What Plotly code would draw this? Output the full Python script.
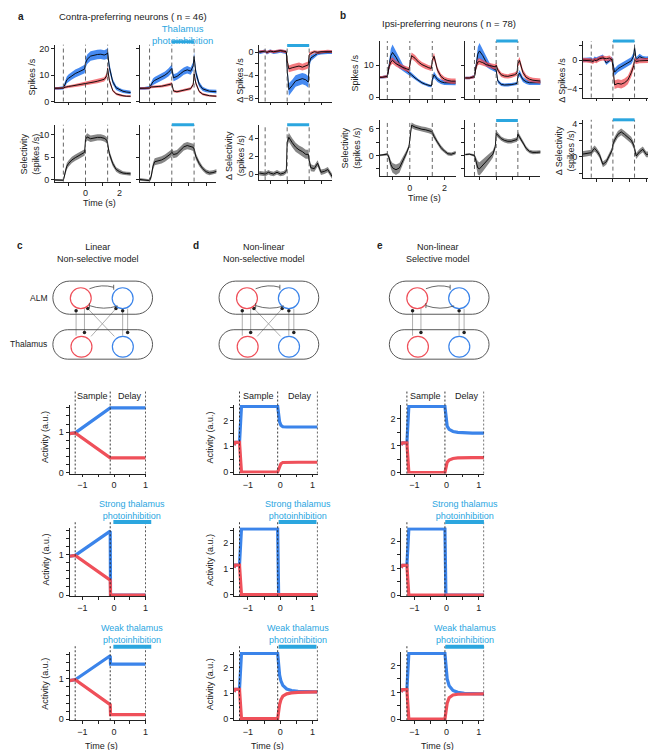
import plotly.graph_objects as go

W, H = 656, 750
FONT = "Arial, 'Liberation Sans', Helvetica, sans-serif"
INK = "#222222"
BLUE = "#3b84ea"
RED = "#ef505a"
CYAN = "#2ba6df"
BLUE_BAND = "rgba(38,118,238,0.85)"
RED_BAND = "rgba(240,70,78,0.72)"
GREY_BAND = "rgba(105,105,105,0.8)"

# ---------------- recorded activity (panels a, b) ----------------
t = [-1.9, -1.6, -1.3, -1.2, -1.1, -1.0, -0.8, -0.6, -0.4, -0.2, -0.05, 0.0, 0.1, 0.3,
     0.5, 0.7, 0.9, 1.1, 1.25, 1.3, 1.4, 1.6, 1.8, 2.0, 2.2, 2.4, 2.7]
epochs = [-1.3, 0.0, 1.3]
light = [0.0, 1.3]

# contra-preferring, control
contra_ctrl_blue = [5.0, 5.0, 5.2, 6.5, 8.2, 8.8, 9.8, 10.6, 11.2, 11.8, 12.3, 14.5, 16.0, 17.2,
                    17.6, 17.8, 17.9, 17.6, 18.0, 18.5, 13.0, 7.5, 5.2, 4.4, 3.9, 3.6, 3.4]
contra_ctrl_blue_sem = [0.5, 0.5, 0.6, 1.0, 1.3, 1.4, 1.5, 1.5, 1.5, 1.5, 1.6, 1.7, 1.8, 1.8,
                        1.8, 1.8, 1.8, 1.8, 1.9, 2.0, 1.6, 1.0, 0.8, 0.7, 0.7, 0.7, 0.7]
contra_ctrl_red = [5.0, 5.0, 5.1, 5.4, 5.6, 5.7, 5.9, 6.1, 6.3, 6.5, 6.7, 6.8, 6.9, 7.1,
                   7.4, 7.7, 8.0, 8.4, 9.8, 12.5, 8.0, 4.2, 2.9, 2.4, 2.2, 2.0, 2.0]
contra_ctrl_red_sem = [0.4, 0.4, 0.4, 0.5, 0.5, 0.5, 0.5, 0.6, 0.6, 0.6, 0.6, 0.7, 0.7, 0.7,
                       0.7, 0.8, 0.8, 0.8, 1.0, 1.2, 0.9, 0.5, 0.4, 0.4, 0.4, 0.4, 0.4]
# contra-preferring, thalamus photoinhibition
contra_inh_blue = [5.0, 5.0, 5.3, 6.5, 7.5, 8.0, 8.6, 9.3, 10.0, 11.0, 12.0, 12.5, 9.0, 9.5,
                   10.5, 11.5, 12.0, 11.5, 13.5, 17.0, 11.0, 6.5, 4.8, 4.2, 3.9, 3.8, 3.7]
contra_inh_blue_sem = [0.5, 0.5, 0.6, 1.0, 1.2, 1.3, 1.4, 1.4, 1.4, 1.5, 1.5, 1.5, 1.3, 1.3,
                       1.4, 1.4, 1.4, 1.4, 1.6, 1.8, 1.5, 1.0, 0.8, 0.7, 0.7, 0.7, 0.7]
contra_inh_red = [5.0, 5.0, 5.1, 5.5, 5.6, 5.6, 5.7, 5.8, 6.0, 6.3, 6.6, 6.8, 4.0, 3.7,
                  4.0, 4.3, 4.6, 4.9, 6.5, 10.5, 7.0, 3.8, 2.8, 2.4, 2.2, 2.1, 2.0]
contra_inh_red_sem = [0.4, 0.4, 0.4, 0.5, 0.5, 0.5, 0.5, 0.5, 0.5, 0.6, 0.6, 0.6, 0.5, 0.5,
                      0.5, 0.5, 0.5, 0.5, 0.7, 1.0, 0.8, 0.5, 0.4, 0.4, 0.4, 0.4, 0.4]
# contra-preferring, photoinhibition minus control
contra_delta_blue = [0.1, 0.0, 0.2, -0.1, 0.1, 0.2, 0.0, 0.1, 0.2, 0.1, 0.0, -3.0, -6.5, -5.8,
                     -5.0, -4.8, -4.6, -4.8, -5.2, -2.0, -1.0, -0.6, -0.2, -0.1, 0.0, 0.0, 0.0]
contra_delta_blue_sem = [0.3, 0.3, 0.3, 0.3, 0.3, 0.3, 0.3, 0.3, 0.3, 0.3, 0.3, 0.8, 1.1, 1.0,
                         1.0, 1.0, 1.0, 1.0, 1.0, 0.8, 0.5, 0.4, 0.3, 0.3, 0.3, 0.3, 0.3]
contra_delta_red = [0.2, 0.1, 0.2, 0.0, 0.1, 0.2, 0.1, 0.2, 0.3, 0.2, 0.1, -1.5, -2.9, -2.7,
                    -2.5, -2.4, -2.6, -2.4, -2.2, -0.5, -0.2, 0.1, 0.0, 0.1, 0.1, 0.2, 0.1]
contra_delta_red_sem = [0.25, 0.25, 0.25, 0.25, 0.25, 0.25, 0.25, 0.25, 0.25, 0.25, 0.25, 0.5, 0.6, 0.6,
                        0.6, 0.6, 0.6, 0.6, 0.6, 0.5, 0.3, 0.25, 0.25, 0.25, 0.25, 0.25, 0.25]
# contra-preferring selectivity
contra_sel_ctrl = [0.0, -0.1, -0.1, 1.5, 3.0, 3.6, 4.4, 4.9, 5.3, 5.7, 6.1, 9.0, 9.5, 9.1,
                   9.3, 9.4, 9.4, 9.2, 8.8, 8.0, 5.8, 3.6, 2.3, 1.8, 1.5, 1.4, 1.3]
contra_sel_ctrl_sem = [0.2, 0.2, 0.2, 0.6, 0.7, 0.7, 0.7, 0.7, 0.7, 0.7, 0.7, 0.8, 0.8, 0.7,
                       0.7, 0.7, 0.7, 0.7, 0.7, 0.8, 0.7, 0.6, 0.5, 0.5, 0.4, 0.4, 0.4]
contra_sel_inh = [0.1, -0.1, -0.2, 0.8, 3.0, 4.0, 4.2, 4.4, 4.8, 5.3, 5.8, 6.2, 5.6, 5.8,
                  6.6, 7.3, 7.6, 7.4, 7.2, 6.8, 5.2, 3.6, 2.5, 1.8, 1.5, 1.6, 2.0]
contra_sel_inh_sem = [0.3, 0.3, 0.3, 0.6, 0.8, 0.8, 0.8, 0.8, 0.8, 0.8, 0.8, 0.8, 0.8, 0.8,
                      0.8, 0.8, 0.8, 0.8, 0.8, 0.8, 0.7, 0.6, 0.5, 0.5, 0.5, 0.5, 0.5]
contra_sel_delta = [0.0, 0.1, 0.0, 0.1, 0.2, 0.1, 0.0, 0.2, 0.0, 0.1, 0.3, 3.5, 4.1, 3.5,
                    3.0, 2.7, 2.5, 2.2, 2.2, 1.5, 0.7, 0.6, 1.2, 0.2, 0.3, 0.5, -0.4]
contra_sel_delta_sem = [0.25, 0.25, 0.25, 0.25, 0.25, 0.25, 0.25, 0.25, 0.25, 0.25, 0.25, 0.5, 0.5, 0.5,
                        0.5, 0.5, 0.5, 0.5, 0.5, 0.4, 0.4, 0.35, 0.35, 0.3, 0.3, 0.3, 0.3]

# ipsi-preferring, control
ipsi_ctrl_blue = [6.2, 6.2, 6.5, 10.0, 13.0, 14.0, 12.5, 10.5, 9.2, 8.3, 7.7, 7.5, 7.0, 6.0,
                  5.2, 4.5, 4.0, 3.6, 3.5, 5.5, 7.0, 5.5, 4.8, 4.5, 4.4, 4.4, 4.4]
ipsi_ctrl_blue_sem = [0.4, 0.4, 0.5, 1.5, 2.2, 2.5, 2.0, 1.5, 1.0, 0.8, 0.7, 0.7, 0.6, 0.5,
                      0.5, 0.5, 0.4, 0.4, 0.4, 0.8, 1.0, 0.8, 0.7, 0.7, 0.7, 0.7, 0.7]
ipsi_ctrl_red = [6.2, 6.2, 6.5, 9.5, 11.0, 11.5, 10.5, 9.8, 9.3, 8.9, 8.6, 10.0, 13.0, 12.2,
                 11.0, 10.2, 9.6, 9.2, 9.0, 11.5, 12.8, 8.5, 6.5, 5.6, 5.2, 5.0, 5.0]
ipsi_ctrl_red_sem = [0.4, 0.4, 0.5, 0.9, 1.0, 1.0, 0.9, 0.8, 0.8, 0.8, 0.8, 0.9, 1.0, 1.0,
                     0.9, 0.8, 0.8, 0.8, 0.8, 1.0, 1.1, 0.9, 0.8, 0.8, 0.8, 0.8, 0.8]
# ipsi-preferring, thalamus photoinhibition
ipsi_inh_blue = [6.0, 6.0, 6.5, 10.5, 13.5, 14.5, 13.0, 11.0, 9.8, 9.0, 8.6, 8.5, 5.0, 4.0,
                 3.8, 3.8, 3.9, 4.1, 4.3, 6.5, 7.5, 5.5, 4.8, 4.5, 4.5, 4.5, 4.5]
ipsi_inh_blue_sem = [0.4, 0.4, 0.5, 1.5, 2.2, 2.5, 2.0, 1.5, 1.0, 0.8, 0.7, 0.7, 0.6, 0.5,
                     0.5, 0.5, 0.5, 0.5, 0.5, 0.8, 1.0, 0.8, 0.7, 0.7, 0.7, 0.7, 0.7]
ipsi_inh_red = [6.0, 6.0, 6.4, 9.5, 11.0, 11.2, 10.8, 10.2, 9.9, 9.6, 9.5, 10.0, 8.5, 7.0,
                6.6, 6.5, 6.7, 7.0, 7.5, 10.5, 11.5, 7.8, 6.2, 5.6, 5.3, 5.2, 5.0]
ipsi_inh_red_sem = [0.4, 0.4, 0.5, 0.9, 1.0, 1.0, 0.9, 0.8, 0.8, 0.8, 0.8, 0.9, 0.8, 0.7,
                    0.7, 0.7, 0.7, 0.7, 0.8, 1.0, 1.1, 0.9, 0.8, 0.8, 0.8, 0.8, 0.8]
# ipsi-preferring, photoinhibition minus control
ipsi_delta_blue = [0.0, 0.0, 0.1, -0.1, 0.2, 0.1, 0.3, 0.5, -0.4, 0.0, 0.2, -0.5, -1.7, -1.2,
                   -0.9, -0.6, -0.4, -0.1, 0.6, 1.8, 0.0, 0.5, 0.3, 0.2, 0.3, 0.3, 0.3]
ipsi_delta_blue_sem = [0.3, 0.3, 0.3, 0.3, 0.3, 0.3, 0.3, 0.3, 0.3, 0.3, 0.3, 0.4, 0.5, 0.5,
                       0.5, 0.5, 0.5, 0.5, 0.5, 0.5, 0.4, 0.4, 0.3, 0.3, 0.3, 0.3, 0.3]
ipsi_delta_red = [0.0, 0.0, -0.1, -0.2, 0.0, -0.1, 0.2, 0.3, 0.2, 0.3, 0.0, -1.0, -3.5, -3.3,
                  -3.4, -3.2, -2.8, -1.8, -0.8, 0.0, -0.2, -0.1, -0.1, -0.1, 0.0, 0.0, 0.0]
ipsi_delta_red_sem = [0.35, 0.35, 0.35, 0.35, 0.35, 0.35, 0.35, 0.35, 0.35, 0.35, 0.35, 0.5, 0.6, 0.6,
                      0.6, 0.6, 0.6, 0.6, 0.5, 0.4, 0.35, 0.35, 0.35, 0.35, 0.35, 0.35, 0.35]
# ipsi-preferring selectivity
ipsi_sel_ctrl = [0.0, 0.1, 0.3, -0.5, -2.0, -2.8, -3.2, -2.8, -1.2, 0.5, 2.0, 4.0, 6.8, 6.4,
                 6.1, 5.9, 5.8, 5.6, 5.4, 5.2, 4.3, 3.0, 1.8, 1.0, 0.4, 0.3, 0.7]
ipsi_sel_ctrl_sem = [0.2, 0.2, 0.3, 0.6, 0.9, 1.1, 1.2, 1.1, 0.9, 0.6, 0.5, 0.5, 0.6, 0.6,
                     0.6, 0.6, 0.6, 0.6, 0.6, 0.6, 0.6, 0.5, 0.5, 0.4, 0.4, 0.4, 0.4]
ipsi_sel_inh = [0.2, 0.3, 0.0, -1.5, -2.8, -3.0, -2.2, -1.5, -0.6, 0.3, 2.0, 5.0, 4.6, 3.8,
                3.4, 3.2, 3.2, 3.4, 3.6, 4.8, 4.2, 3.0, 1.6, 0.9, 0.7, 0.7, 0.8]
ipsi_sel_inh_sem = [0.2, 0.2, 0.3, 1.0, 1.5, 1.5, 1.4, 1.2, 1.0, 0.8, 0.6, 0.6, 0.6, 0.5,
                    0.5, 0.5, 0.5, 0.5, 0.5, 0.6, 0.6, 0.5, 0.5, 0.4, 0.4, 0.4, 0.4]
ipsi_sel_delta = [0.3, 0.4, 0.5, 0.8, 1.0, 0.8, 0.2, -0.9, -0.6, 0.2, 0.8, 1.5, 2.0, 2.7,
                  3.0, 2.7, 2.4, 2.0, 1.4, 1.0, 0.1, 0.6, 0.9, 0.3, 0.3, 0.4, 0.2]
ipsi_sel_delta_sem = [0.35, 0.35, 0.35, 0.35, 0.35, 0.35, 0.35, 0.35, 0.35, 0.35, 0.35, 0.4, 0.4, 0.4,
                      0.4, 0.4, 0.4, 0.4, 0.4, 0.4, 0.35, 0.35, 0.35, 0.35, 0.35, 0.35, 0.35]

# ---------------- rate models (panels c, d, e) ----------------
c_epochs = [-1.23, -0.12, 1.0]
c_light = [-0.02, 1.18]
c_t = [-1.41, -1.23, -0.12, -0.11, 1.0]
c_ctrl_blue = [0.96, 0.98, 1.6, 1.6, 1.6]
c_ctrl_red = [0.96, 0.98, 0.36, 0.36, 0.36]
c_strong_blue = [0.96, 0.98, 1.58, 0.0, 0.0]
c_strong_red = [0.96, 0.98, 0.37, 0.0, 0.0]
c_weak_blue = [0.96, 0.98, 1.58, 1.37, 1.37]
c_weak_red = [0.96, 0.98, 0.36, 0.11, 0.11]

d_epochs = [-1.26, -0.08, 1.15]
d_light = [-0.05, 1.12]
d_t = [-1.43, -1.39, -1.26, -1.23, -1.20, -0.08, -0.05, -0.02, 0.02, 0.08, 0.2, 0.35, 0.55, 0.8, 1.15]
d_ctrl_blue = [1.05, 1.15, 1.15, 2.3, 2.55, 2.55, 2.2, 1.95, 1.82, 1.76, 1.75, 1.75, 1.75, 1.75, 1.75]
d_ctrl_red = [1.05, 1.15, 1.15, 0.2, 0.0, 0.0, 0.08, 0.22, 0.32, 0.37, 0.38, 0.38, 0.38, 0.38, 0.38]
d_strong_blue = [1.05, 1.15, 1.15, 2.3, 2.55, 2.55, 0.0, 0.0, 0.0, 0.0, 0.0, 0.0, 0.0, 0.0, 0.0]
d_strong_red = [1.05, 1.15, 1.15, 0.2, 0.0, 0.0, 0.0, 0.0, 0.0, 0.0, 0.0, 0.0, 0.0, 0.0, 0.0]
d_weak_blue = [1.05, 1.15, 1.15, 2.3, 2.55, 2.55, 2.05, 1.7, 1.48, 1.3, 1.16, 1.1, 1.07, 1.05, 1.05]
d_weak_red = [1.05, 1.15, 1.15, 0.2, 0.0, 0.0, 0.3, 0.55, 0.74, 0.88, 0.97, 1.01, 1.03, 1.05, 1.05]

e_epochs = [-1.23, -0.05, 1.16]
e_light = [-0.04, 1.16]
e_t = [-1.41, -1.37, -1.23, -1.20, -1.17, -0.05, -0.02, 0.02, 0.08, 0.2, 0.35, 0.55, 0.8, 1.16]
e_ctrl_blue = [1.02, 1.1, 1.1, 2.2, 2.45, 2.45, 2.0, 1.72, 1.6, 1.52, 1.49, 1.47, 1.46, 1.46]
e_ctrl_red = [1.02, 1.1, 1.1, 0.2, 0.0, 0.0, 0.2, 0.38, 0.46, 0.52, 0.54, 0.55, 0.55, 0.55]
e_strong_blue = [1.02, 1.1, 1.1, 2.2, 2.45, 2.45, 0.0, 0.0, 0.0, 0.0, 0.0, 0.0, 0.0, 0.0]
e_strong_red = [1.02, 1.1, 1.1, 0.2, 0.0, 0.0, 0.0, 0.0, 0.0, 0.0, 0.0, 0.0, 0.0, 0.0]
e_weak_blue = [1.02, 1.1, 1.1, 2.2, 2.45, 2.45, 1.9, 1.5, 1.25, 1.07, 1.0, 0.96, 0.95, 0.94]
e_weak_red = [1.02, 1.1, 1.1, 0.2, 0.0, 0.0, 0.3, 0.6, 0.8, 0.9, 0.93, 0.94, 0.94, 0.94]

# ---------------- circuit schematic (local px units) ----------------
alm_box = (5, 9.3, 105, 42.7)
thal_box = (5, 58.3, 105, 88)
neuron_r = 10.5
neurons = [(33, 26.5, RED), (75, 26.5, BLUE), (33.7, 75.5, RED), (75.2, 75.5, BLUE)]
straight_proj = [(28.3, 64.3, 28.3, 39.3), (36.7, 37, 36.7, 61), (75, 64.3, 75, 39.3), (80, 37, 80, 61)]
cross_proj = [(43.3, 65, 68.3, 37), (66.7, 65, 40, 37)]

fig = go.Figure()
layout = {}
shapes = []
notes = []
n_axes = 0


def add_axes(xd, yd, xr, yr, xt=(), xtl=(), yt=(), ytl=(), visible=True):
    global n_axes
    n_axes += 1
    s = "" if n_axes == 1 else str(n_axes)
    common = dict(showgrid=False, zeroline=False, fixedrange=True)
    if visible:
        common.update(showline=True, linecolor=INK, linewidth=0.8, ticks="outside", ticklen=3,
                      tickwidth=0.8, tickcolor=INK, tickfont=dict(size=9, color=INK), tickmode="array")
    else:
        common.update(visible=False)
    layout["xaxis" + s] = dict(domain=[xd[0] / W, xd[1] / W], range=list(xr), anchor="y" + s,
                               tickvals=list(xt), ticktext=list(xtl), **common)
    layout["yaxis" + s] = dict(domain=[1 - yd[1] / H, 1 - yd[0] / H], range=list(yr), anchor="x" + s,
                               tickvals=list(yt), ticktext=list(ytl), **common)
    return "x" + s, "y" + s


def text(x, y, s, size=9, color=INK, xanchor="center", angle=0, xref="paper"):
    notes.append(dict(x=x if xref != "paper" else x / W, y=1 - y / H, xref=xref, yref="paper", text=s,
                      showarrow=False, xanchor=xanchor, yanchor="middle", textangle=angle,
                      font=dict(size=size, color=color)))


def band(xa, ya, m, s, color):
    up = [a + b for a, b in zip(m, s)]
    lo = [a - b for a, b in zip(m, s)]
    fig.add_trace(go.Scatter(x=t + t[::-1], y=up + lo[::-1], fill="toself", fillcolor=color, mode="lines",
                             line=dict(width=0), hoverinfo="skip", xaxis=xa, yaxis=ya))
    fig.add_trace(go.Scatter(x=t, y=m, mode="lines", line=dict(color="black", width=0.9),
                             hoverinfo="skip", xaxis=xa, yaxis=ya))


def epoch_lines(xa, ya, times, top=1.0, dash="4px,3px", color="#555555"):
    for e in times:
        shapes.append(dict(type="line", xref=xa, yref=ya + " domain", x0=e, x1=e, y0=0, y1=top,
                           line=dict(color=color, width=0.9, dash=dash)))


def light_bar(xa, ya, x0, x1, y=1.03, width=3, xref_domain=False):
    shapes.append(dict(type="line", xref=xa + (" domain" if xref_domain else ""), yref=ya + " domain",
                       x0=x0, x1=x1, y0=y, y1=y, line=dict(color=CYAN, width=width)))


# ---------------- panels a and b ----------------
XT = [-1, 0, 1, 2]
XL_NONE = ["", "", "", ""]
XL_TIME = ["", "0", "", "2"]

a_cols = [(47, 123, (-1.8, 2.65)), (132, 209, (-1.88, 2.6)), (252, 325, (-1.65, 2.65))]
b_cols = [(372.7, 449, (-1.75, 2.65)), (458.7, 534, (-1.85, 2.65)), (576.7, 651, (-1.8, 2.65))]

# a, row 1
xa, ya = add_axes(a_cols[0][:2], (36, 93.3), a_cols[0][2], (0, 21.5), XT, XL_NONE, [0, 10, 20], ["0", "10", "20"])
epoch_lines(xa, ya, epochs)
band(xa, ya, contra_ctrl_blue, contra_ctrl_blue_sem, BLUE_BAND)
band(xa, ya, contra_ctrl_red, contra_ctrl_red_sem, RED_BAND)
xa, ya = add_axes(a_cols[1][:2], (36, 93.3), a_cols[1][2], (0, 21.5), XT, XL_NONE, [0, 10, 20], ["", "", ""])
epoch_lines(xa, ya, epochs)
band(xa, ya, contra_inh_blue, contra_inh_blue_sem, BLUE_BAND)
band(xa, ya, contra_inh_red, contra_inh_red_sem, RED_BAND)
light_bar(xa, ya, light[0], light[1], y=1.05)
xa, ya = add_axes(a_cols[2][:2], (36.7, 93.3), a_cols[2][2], (-8.6, 1.2), XT, XL_NONE,
                  [-8, -6, -4, -2, 0], ["\u22128", "", "\u22124", "", "0"])
epoch_lines(xa, ya, epochs)
band(xa, ya, contra_delta_blue, contra_delta_blue_sem, BLUE_BAND)
band(xa, ya, contra_delta_red, contra_delta_red_sem, RED_BAND)
light_bar(xa, ya, light[0], light[1], y=1.0)

# a, row 2
xa, ya = add_axes(a_cols[0][:2], (116.7, 174), a_cols[0][2], (-0.4, 12.2), XT, XL_TIME, [0, 5, 10], ["0", "5", "10"])
epoch_lines(xa, ya, epochs)
band(xa, ya, contra_sel_ctrl, contra_sel_ctrl_sem, GREY_BAND)
xa, ya = add_axes(a_cols[1][:2], (116.7, 174), a_cols[1][2], (-0.4, 12.2), XT, XL_NONE, [0, 5, 10], ["", "", ""])
epoch_lines(xa, ya, epochs)
band(xa, ya, contra_sel_inh, contra_sel_inh_sem, GREY_BAND)
light_bar(xa, ya, light[0], light[1], y=1.0)
xa, ya = add_axes(a_cols[2][:2], (116.7, 172.7), a_cols[2][2], (-0.7, 5.5), XT, XL_NONE, [0, 2, 4], ["0", "2", "4"])
epoch_lines(xa, ya, epochs)
band(xa, ya, contra_sel_delta, contra_sel_delta_sem, GREY_BAND)
light_bar(xa, ya, light[0], light[1], y=1.0)

# b, row 1
xa, ya = add_axes(b_cols[0][:2], (32.3, 90.7), b_cols[0][2], (-0.6, 17.6), XT, XL_NONE, [0, 10], ["0", "10"])
epoch_lines(xa, ya, epochs)
band(xa, ya, ipsi_ctrl_blue, ipsi_ctrl_blue_sem, BLUE_BAND)
band(xa, ya, ipsi_ctrl_red, ipsi_ctrl_red_sem, RED_BAND)
xa, ya = add_axes(b_cols[1][:2], (32.3, 90.7), b_cols[1][2], (-0.6, 17.6), XT, XL_NONE, [0, 10], ["", ""])
epoch_lines(xa, ya, epochs)
band(xa, ya, ipsi_inh_blue, ipsi_inh_blue_sem, BLUE_BAND)
band(xa, ya, ipsi_inh_red, ipsi_inh_red_sem, RED_BAND)
light_bar(xa, ya, light[0], light[1], y=1.0)
xa, ya = add_axes(b_cols[2][:2], (32.3, 89.3), b_cols[2][2], (-5.3, 2.7), XT, XL_NONE,
                  [-4, -2, 0, 2], ["\u22124", "", "0", ""])
epoch_lines(xa, ya, epochs)
band(xa, ya, ipsi_delta_blue, ipsi_delta_blue_sem, BLUE_BAND)
band(xa, ya, ipsi_delta_red, ipsi_delta_red_sem, RED_BAND)
light_bar(xa, ya, light[0], light[1], y=1.0)

# b, row 2
xa, ya = add_axes(b_cols[0][:2], (112.3, 168.3), b_cols[0][2], (-4.6, 7.9), XT, XL_TIME, [-3, 0, 3, 6], ["", "0", "", "6"])
epoch_lines(xa, ya, epochs)
band(xa, ya, ipsi_sel_ctrl, ipsi_sel_ctrl_sem, GREY_BAND)
xa, ya = add_axes(b_cols[1][:2], (112.3, 168.3), b_cols[1][2], (-4.6, 7.9), XT, XL_NONE, [-3, 0, 3, 6], ["", "", "", ""])
epoch_lines(xa, ya, epochs)
band(xa, ya, ipsi_sel_inh, ipsi_sel_inh_sem, GREY_BAND)
light_bar(xa, ya, light[0], light[1], y=1.0)
xa, ya = add_axes(b_cols[2][:2], (111.7, 170), b_cols[2][2], (-2.5, 4.45), XT, XL_NONE,
                  [-2, 0, 2, 4], ["", "0", "", "4"])
epoch_lines(xa, ya, epochs)
band(xa, ya, ipsi_sel_delta, ipsi_sel_delta_sem, GREY_BAND)
light_bar(xa, ya, light[0], light[1], y=1.0)

# ---------------- panels c, d, e : model traces ----------------
model_rows = [(399.3, 468.3), (522.7, 592), (648.3, 717)]
model_cols = {
    "c": dict(xd=(61.7, 138.3), xr=(-1.41, 1.01), yr=(-0.03, 1.67),
              yt=[0, 0.2, 0.4, 0.6, 0.8, 1.0, 1.2, 1.4, 1.6], ytl=["0", "", "", "", "", "1", "", "", ""],
              epochs=c_epochs, light=c_light, t=c_t,
              runs=[(c_ctrl_blue, c_ctrl_red), (c_strong_blue, c_strong_red), (c_weak_blue, c_weak_red)]),
    "d": dict(xd=(226.7, 310.7), xr=(-1.43, 1.16), yr=(-0.06, 2.6),
              yt=[0, 0.5, 1, 1.5, 2, 2.5], ytl=["0", "", "1", "", "2", ""],
              epochs=d_epochs, light=d_light, t=d_t,
              runs=[(d_ctrl_blue, d_ctrl_red), (d_strong_blue, d_strong_red), (d_weak_blue, d_weak_red)]),
    "e": dict(xd=(394.3, 477.7), xr=(-1.41, 1.17), yr=(-0.04, 2.5),
              yt=[0, 0.5, 1, 1.5, 2], ytl=["0", "", "1", "", "2"],
              epochs=e_epochs, light=e_light, t=e_t,
              runs=[(e_ctrl_blue, e_ctrl_red), (e_strong_blue, e_strong_red), (e_weak_blue, e_weak_red)]),
}
MXT = [-1, -0.5, 0, 0.5, 1]
MXL = ["\u22121", "", "0", "", "1"]
light_titles = [None, "Strong thalamus<br>photoinhibition", "Weak thalamus<br>photoinhibition"]

for key, col in model_cols.items():
    for r, (top, bottom) in enumerate(model_rows):
        xa, ya = add_axes(col["xd"], (top, bottom), col["xr"], col["yr"], MXT, MXL, col["yt"], col["ytl"])
        epoch_lines(xa, ya, col["epochs"], top=1.21 if r == 0 else 1.1, dash="2px,2px", color="#222222")
        blue, red = col["runs"][r]
        for ys, c in ((blue, BLUE), (red, RED)):
            fig.add_trace(go.Scatter(x=col["t"], y=ys, mode="lines", line=dict(color=c, width=3.2),
                                     hoverinfo="skip", xaxis=xa, yaxis=ya))
        r0, r1 = col["xr"]
        if r == 0:
            ep = col["epochs"]
            text((ep[0] + ep[1]) / 2, 390, "Sample", xref=xa)
            text((ep[1] + ep[2]) / 2 + 0.08, 390, "Delay", xref=xa)
        else:
            lx0 = (col["light"][0] - r0) / (r1 - r0)
            lx1 = (col["light"][1] - r0) / (r1 - r0)
            light_bar(xa, ya, lx0, lx1, y=1.08, width=4, xref_domain=True)
            mid_px = col["xd"][0] + (lx0 + lx1) / 2 * (col["xd"][1] - col["xd"][0])
            text(mid_px, top - 18, light_titles[r], color=CYAN)
        if key != "e":
            text(col["xd"][0] - 24, (top + bottom) / 2 - 2, "Activity (a.u.)", angle=-90)

text(94, 743, "Time (s)")
text(260, 743, "Time (s)")
text(431, 743, "Time (s)")

# ---------------- circuit schematics ----------------
def pill(b):
    x0, y0, x1, y1 = b
    r = (y1 - y0) / 2
    ym = (y0 + y1) / 2
    k = 0.5523 * r
    return (f"M {x0 + r},{y0} L {x1 - r},{y0} C {x1 - r + k},{y0} {x1},{ym - k} {x1},{ym} "
            f"C {x1},{ym + k} {x1 - r + k},{y1} {x1 - r},{y1} L {x0 + r},{y1} "
            f"C {x0 + r - k},{y1} {x0},{ym + k} {x0},{ym} C {x0},{ym - k} {x0 + r - k},{y0} {x0 + r},{y0} Z")


for ox, crossed in ((40, True), (206.7, True), (377.5, False)):
    xa, ya = add_axes((ox, ox + 110), (265, 358), (0, 110), (93, 0), visible=False)
    for b in (alm_box, thal_box):
        shapes.append(dict(type="path", xref=xa, yref=ya, path=pill(b), line=dict(color="#444444", width=0.9)))
    for cx, cy, c in neurons:
        shapes.append(dict(type="circle", xref=xa, yref=ya, x0=cx - neuron_r, x1=cx + neuron_r,
                           y0=cy - neuron_r, y1=cy + neuron_r, line=dict(color=c, width=1.2)))
    # mutual connections inside ALM
    shapes.append(dict(type="path", xref=xa, yref=ya, path="M 41.7,17 Q 54,12 66,15.5", line=dict(color="#444444", width=0.8)))
    shapes.append(dict(type="path", xref=xa, yref=ya, path="M 66,13 L 66,18", line=dict(color="#444444", width=0.8)))
    shapes.append(dict(type="path", xref=xa, yref=ya, path="M 70,34.3 Q 56,39 41.7,34", line=dict(color="#444444", width=0.8)))
    shapes.append(dict(type="path", xref=xa, yref=ya, path="M 41.7,31.5 L 41.7,36.5", line=dict(color="#444444", width=0.8)))
    proj = straight_proj + (cross_proj if crossed else [])
    for x0, y0, x1, y1 in proj:
        fig.add_trace(go.Scatter(x=[x0, x1], y=[y0, y1], mode="lines", line=dict(color="#9a9a9a", width=0.8),
                                 hoverinfo="skip", xaxis=xa, yaxis=ya))
    fig.add_trace(go.Scatter(x=[p[2] for p in proj], y=[p[3] for p in proj], mode="markers",
                             marker=dict(color="#222222", size=3.5), hoverinfo="skip", xaxis=xa, yaxis=ya))

text(41, 291, "ALM", xanchor="right", size=8.5)
text(41, 338, "Thalamus", xanchor="right", size=8.5)

# ---------------- titles and labels ----------------
text(13, 7.3, "<b>a</b>", size=10)
text(49, 7.3, "Contra-preferring neurons ( n = 46)", xanchor="left", size=9.5)
text(336, 6.7, "<b>b</b>", size=10)
text(372.7, 15, "Ipsi-preferring neurons ( n = 78)", xanchor="left", size=9.5)
text(175, 26, "Thalamus<br>photoinhibition", color=CYAN, size=9.5)

text(25, 68, "Spikes /s", angle=-90)
text(233, 72, "\u0394 Spikes /s", angle=-90)
text(22, 146, "Selectivity<br>(spikes /s)", angle=-90)
text(228, 148, "\u0394 Selectivity<br>(spikes /s)", angle=-90)
text(91.7, 196, "Time (s)")
text(349, 64, "Spikes /s", angle=-90)
text(556, 72, "\u0394 Spikes /s", angle=-90)
text(344, 140, "Selectivity<br>(spikes /s)", angle=-90)
text(559, 143, "\u0394 Selectivity<br>(spikes /s)", angle=-90)
text(418, 191, "Time (s)")

text(12.3, 238, "<b>c</b>", size=10)
text(90, 246, "Linear<br>Non-selective model")
text(188.3, 238, "<b>d</b>", size=10)
text(256.7, 246, "Non-linear<br>Non-selective model")
text(372.7, 238, "<b>e</b>", size=10)
text(431.3, 246, "Non-linear<br>Selective model")

fig.update_layout(width=W, height=H, margin=dict(l=0, r=0, t=0, b=0), paper_bgcolor="white",
                  plot_bgcolor="rgba(0,0,0,0)", showlegend=False, hovermode=False,
                  font=dict(family=FONT, size=9, color=INK), shapes=shapes, annotations=notes, **layout)
fig.write_html("out.html")
